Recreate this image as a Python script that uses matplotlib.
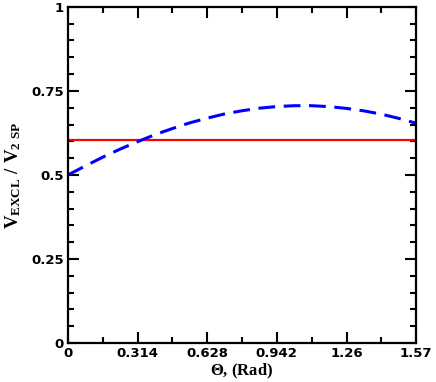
import matplotlib
matplotlib.use("Agg")
import matplotlib.pyplot as plt
from matplotlib.ticker import MultipleLocator, FixedLocator

plt.rcParams["mathtext.fontset"] = "custom"
plt.rcParams["mathtext.rm"] = "Liberation Serif:bold"
plt.rcParams["mathtext.bf"] = "Liberation Serif:bold"
plt.rcParams["mathtext.it"] = "Liberation Serif:bold"

# values
theta = [0.0, 0.0785, 0.157, 0.2355, 0.314, 0.3925, 0.471, 0.5495, 0.628,
         0.7065, 0.785, 0.8635, 0.942, 1.0205, 1.099, 1.1775, 1.256,
         1.3345, 1.413, 1.4915, 1.57]
v_ratio = [0.500, 0.527, 0.553, 0.577, 0.599, 0.620, 0.638, 0.655, 0.669,
           0.6815, 0.691, 0.6986, 0.7035, 0.706, 0.706, 0.7033, 0.698,
           0.6907, 0.681, 0.6685, 0.654]
flat_level = 0.604

x_ticks = [0, 0.314, 0.628, 0.942, 1.26, 1.57]
x_labels = ["0", "0.314", "0.628", "0.942", "1.26", "1.57"]
x_minor = [0.157, 0.471, 0.785, 1.099, 1.413]
y_ticks = [0, 0.25, 0.5, 0.75, 1]
y_labels = ["0", "0.25", "0.5", "0.75", "1"]

fig = plt.figure(figsize=(4.36, 3.82), dpi=100)
ax = fig.add_axes([0.156, 0.102, 0.798, 0.880])

ax.axhline(flat_level, color="#ff0000", lw=1.6)
ax.plot(theta, v_ratio, color="#0000ff", lw=2.2, dashes=(5.5, 2.8))

ax.set_xlim(0, 1.57)
ax.set_ylim(0, 1)

ax.xaxis.set_major_locator(FixedLocator(x_ticks))
ax.set_xticklabels(x_labels)
ax.xaxis.set_minor_locator(FixedLocator(x_minor))
ax.yaxis.set_major_locator(FixedLocator(y_ticks))
ax.set_yticklabels(y_labels)
ax.yaxis.set_minor_locator(MultipleLocator(0.05))

ax.tick_params(which="both", direction="in", top=True, right=True, width=1.5)
ax.tick_params(which="major", length=8, pad=3)
ax.tick_params(which="minor", length=4.5)

for lab in ax.get_xticklabels() + ax.get_yticklabels():
    lab.set_fontfamily("DejaVu Sans")
    lab.set_fontweight("bold")
    lab.set_fontsize(9.5)

for sp in ax.spines.values():
    sp.set_linewidth(1.6)

ax.set_xlabel(r"$\Theta$, (Rad)", fontfamily="Liberation Serif",
              fontweight="bold", fontsize=12, labelpad=1)
ax.set_ylabel(r"$\mathbf{V_{EXCL}\ /\ V_{2\ SP}}$", fontsize=13.5, labelpad=6)

fig.savefig("out.png", dpi=100)
